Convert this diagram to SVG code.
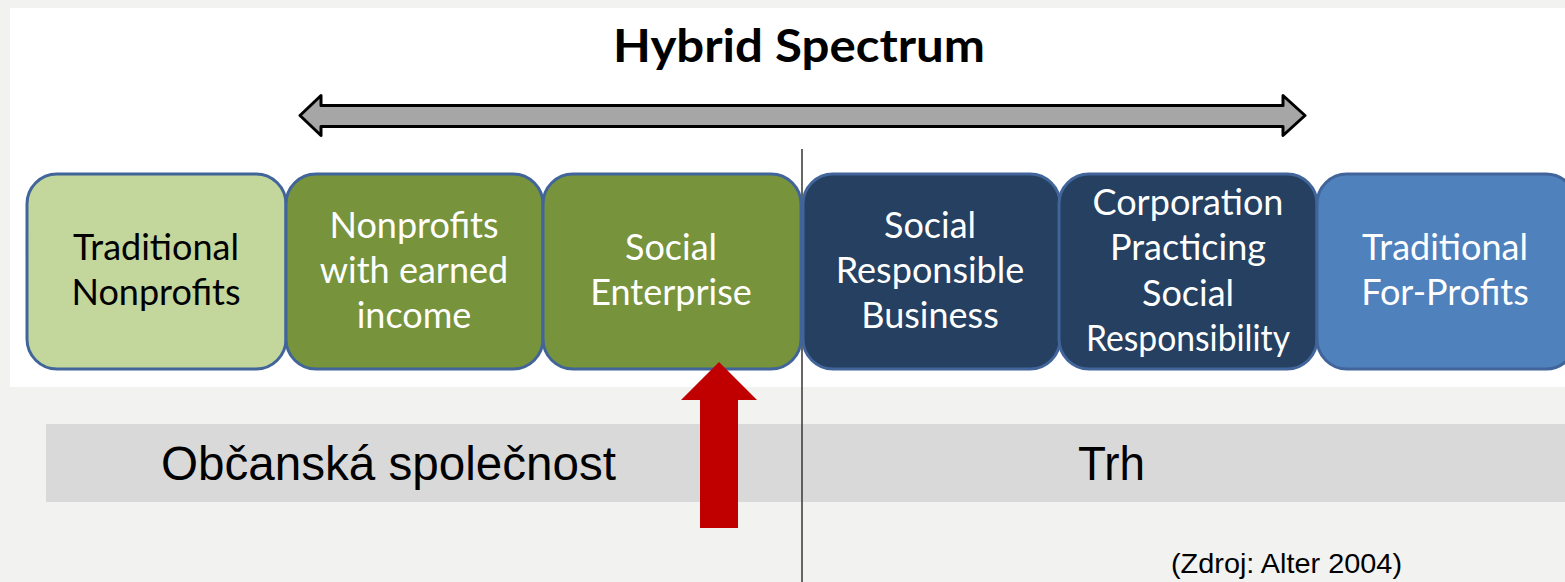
<svg xmlns="http://www.w3.org/2000/svg" width="1565" height="582" viewBox="0 0 1565 582">
  <style>
    .box { stroke: #41659a; stroke-width: 3; }
    .lbl { font-family: Lato, "Open Sans", "Liberation Sans", sans-serif; font-size: 36px; text-anchor: middle; }
    .w { fill: #ffffff; }
    .k { fill: #000000; }
    .big { font-family: "Liberation Sans", Arial, sans-serif; font-size: 48px; fill: #000000; }
  </style>
  <rect x="0" y="0" width="1565" height="582" fill="#f2f2f1"/>
  <rect x="10" y="8" width="1555" height="379" fill="#ffffff"/>
  <rect x="46" y="424" width="1519" height="78" fill="#d9d9d9"/>

  <text x="799" y="62" font-family="Lato, 'Open Sans', sans-serif" font-weight="bold" font-size="46" text-anchor="middle" textLength="372" lengthAdjust="spacingAndGlyphs">Hybrid Spectrum</text>

  <g id="connectors">
    <path d="M300,115.5 L321,95.5 L321,105.5 L1283,105.5 L1283,95.5 L1305,115.5 L1283,135.5 L1283,126.5 L321,126.5 L321,135.5 Z" fill="#a6a6a6" stroke="#000000" stroke-width="3" stroke-linejoin="round"/>
    <line x1="802" y1="149" x2="802" y2="582" stroke="#404040" stroke-width="1.6"/>
  </g>

  <g id="n1">
    <rect class="box" x="27" y="174" width="259" height="195" rx="30" fill="#c3d69b"/>
    <text class="lbl k" x="156" y="260">Traditional</text>
    <text class="lbl k" x="156" y="305">Nonprofits</text>
  </g>
  <g id="n2">
    <rect class="box" x="286" y="174" width="257" height="195" rx="30" fill="#77933c"/>
    <text class="lbl w" x="414" y="238">Nonprofits</text>
    <text class="lbl w" x="414" y="283">with earned</text>
    <text class="lbl w" x="414" y="328">income</text>
  </g>
  <g id="n3">
    <rect class="box" x="543" y="174" width="258" height="195" rx="30" fill="#77933c"/>
    <text class="lbl w" x="671" y="260">Social</text>
    <text class="lbl w" x="671" y="305">Enterprise</text>
  </g>
  <g id="n4">
    <rect class="box" x="803" y="174" width="257" height="195" rx="30" fill="#254061"/>
    <text class="lbl w" x="930" y="238">Social</text>
    <text class="lbl w" x="930" y="283">Responsible</text>
    <text class="lbl w" x="930" y="328">Business</text>
  </g>
  <g id="n5">
    <rect class="box" x="1059" y="174" width="258" height="195" rx="30" fill="#254061"/>
    <text class="lbl w" x="1188" y="215">Corporation</text>
    <text class="lbl w" x="1188" y="260">Practicing</text>
    <text class="lbl w" x="1188" y="306">Social</text>
    <text class="lbl w" x="1188" y="351" textLength="204" lengthAdjust="spacingAndGlyphs">Responsibility</text>
  </g>
  <g id="n6">
    <rect class="box" x="1317" y="174" width="259" height="195" rx="30" fill="#4f81bd"/>
    <text class="lbl w" x="1445" y="260">Traditional</text>
    <text class="lbl w" x="1445" y="305">For-Profits</text>
  </g>

  <g id="red-arrow">
    <path d="M719,362 L757,400 L738,400 L738,528 L700,528 L700,400 L681,400 Z" fill="#c00000"/>
  </g>

  <g id="bands">
    <text class="big" x="161" y="480" textLength="455" lengthAdjust="spacingAndGlyphs">Občanská společnost</text>
    <text class="big" x="1078" y="480" textLength="67" lengthAdjust="spacingAndGlyphs">Trh</text>
    <text x="1171" y="573" font-family="'Liberation Sans', Arial, sans-serif" font-size="28" fill="#000000" textLength="231" lengthAdjust="spacingAndGlyphs">(Zdroj: Alter 2004)</text>
  </g>
</svg>
